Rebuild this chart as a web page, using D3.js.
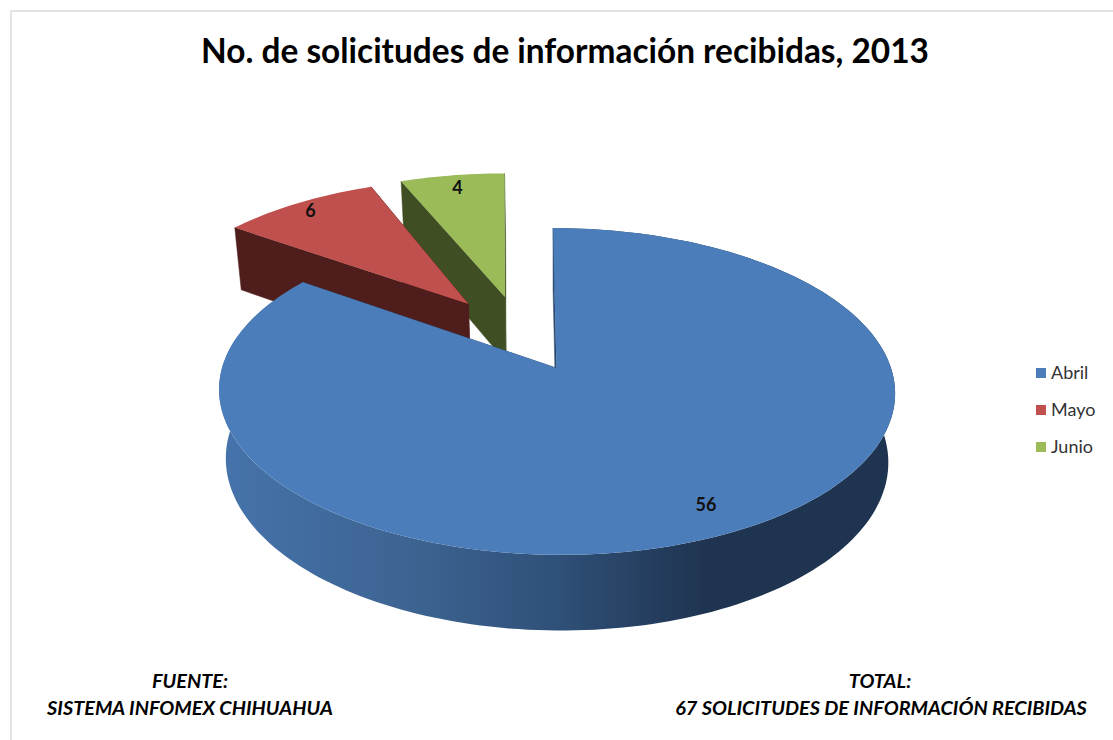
<!DOCTYPE html>
<html>
<head>
<meta charset="utf-8">
<title>No. de solicitudes</title>
<style>
html, body { margin: 0; padding: 0; background: #fff; }
svg { display: block; font-family: Lato, "Open Sans", sans-serif; }
</style>
</head>
<body>
<div id="chart"></div>
<script src="https://cdnjs.cloudflare.com/ajax/libs/d3/7.8.5/d3.min.js"></script>
<script>
var months = ["Abril", "Mayo", "Junio"];
var counts = [56, 6, 4];
var topColors = ["#4b7dba", "#c0504d", "#9bbb59"];
var wallColors = ["#2c4a70", "#4f1e1c", "#3f4f23"];

// how far each slice is pulled out, in pie units, and the label distance
var pullX = [0, -0.279, -0.1644];
var pullY = [0, 0.424, 0.474];
var skew = [-4, -4, -8];
var labelRadius = [0.85, 0.92, 0.89];

var width = 1113, height = 740;
var cx = 556.5, cy = 368;
var a = 334.5, b = 160, k = 0.1437;
var lowerScale = 0.98, depth = 68;

var svg = d3.select("#chart").append("svg")
    .attr("width", width)
    .attr("height", height);

// frame of the original picture
svg.append("path")
    .attr("d", d3.line()([[11, height], [11, 11], [width, 11]]))
    .attr("fill", "none")
    .attr("stroke", "#dcdcdc")
    .attr("stroke-width", 1.5);

var grad = svg.append("defs").append("linearGradient")
    .attr("id", "blueWall")
    .attr("gradientUnits", "userSpaceOnUse")
    .attr("x1", 220).attr("x2", 895).attr("y1", 0).attr("y2", 0);
grad.append("stop").attr("offset", 0).attr("stop-color", "#4573ab");
grad.append("stop").attr("offset", 0.28).attr("stop-color", "#3d6492");
grad.append("stop").attr("offset", 0.5).attr("stop-color", "#2f5078");
grad.append("stop").attr("offset", 0.72).attr("stop-color", "#1f3450");
grad.append("stop").attr("offset", 1).attr("stop-color", "#1f3450");

// tilted pie plane -> screen, with a bit of perspective
function project(X, Y, s0, y0) {
  var w = 1 + k * Y;
  return [cx + (a * X + s0 * (Y - y0)) / w, cy - b * Y / w];
}
function lower(p, X, Y) {
  var w = 1 + k * Y;
  return [cx + lowerScale * (p[0] - cx), cy + lowerScale * (p[1] - cy) + depth / w];
}

var arcs = d3.pie().sort(null)(counts);
var line = d3.line();

function rimPoints(d, i) {
  var n = Math.max(4, Math.round((d.endAngle - d.startAngle) * 40));
  return d3.range(n + 1).map(function(j) {
    var t = d.startAngle + (d.endAngle - d.startAngle) * j / n;
    return [pullX[i] + Math.sin(t), pullY[i] + Math.cos(t)];
  });
}

// painter's order: far slices first, big one last
d3.range(counts.length).reverse().forEach(function(i) {
  var rim = rimPoints(arcs[i], i);
  var top = rim.map(function(u) { return project(u[0], u[1], skew[i], pullY[i]); });
  var bottom = rim.map(function(u, j) { return lower(top[j], u[0], u[1]); });
  var apex = project(pullX[i], pullY[i], skew[i], pullY[i]);
  var apexLow = lower(apex, pullX[i], pullY[i]);
  var g = svg.append("g").attr("class", "slice");

  [top.length - 1, 0].forEach(function(j) {
    g.append("path")
        .attr("d", line([apex, top[j], bottom[j], apexLow]) + "Z")
        .attr("fill", wallColors[i])
        .attr("stroke", wallColors[i])
        .attr("stroke-width", 0.5);
  });

  if (i === 0) {
    g.append("path")
        .attr("d", line(top.concat(bottom.slice().reverse())) + "Z")
        .attr("fill", "url(#blueWall)");
  }

  g.append("path")
      .attr("d", line([apex].concat(top)) + "Z")
      .attr("fill", topColors[i]);
});

// value labels
arcs.forEach(function(d, i) {
  var mid = (d.startAngle + d.endAngle) / 2;
  var X = pullX[i] + labelRadius[i] * Math.sin(mid);
  var Y = pullY[i] + labelRadius[i] * Math.cos(mid);
  var p = project(X, Y, skew[i], pullY[i]);
  svg.append("text")
      .attr("x", p[0])
      .attr("y", p[1] + 7)
      .attr("text-anchor", "middle")
      .attr("font-size", 18)
      .attr("font-weight", 700)
      .attr("fill", "#111")
      .text(counts[i]);
});

// legend
var legendY = d3.scalePoint().domain(months).range([373, 447]);
var legend = svg.append("g").selectAll("g")
    .data(months)
  .enter().append("g")
    .attr("transform", function(d) { return "translate(1036," + legendY(d) + ")"; });
legend.append("rect")
    .attr("y", -5)
    .attr("width", 10)
    .attr("height", 10)
    .attr("fill", function(d, i) { return topColors[i]; });
legend.append("text")
    .attr("x", 15)
    .attr("y", 6)
    .attr("font-size", 18)
    .attr("fill", "#333")
    .text(function(d) { return d; });

svg.append("text")
    .attr("x", 565)
    .attr("y", 63)
    .attr("text-anchor", "middle")
    .attr("font-size", 33.4)
    .attr("font-weight", 700)
    .attr("fill", "#000")
    .text("No. de solicitudes de información recibidas, 2013");

var notes = [
  {x: 190, y: 688, t: "FUENTE:"},
  {x: 190, y: 715, t: "SISTEMA INFOMEX CHIHUAHUA"},
  {x: 880, y: 688, t: "TOTAL:"},
  {x: 881, y: 715, t: "67 SOLICITUDES DE INFORMACIÓN RECIBIDAS"}
];
svg.append("g").selectAll("text")
    .data(notes)
  .enter().append("text")
    .attr("x", function(d) { return d.x; })
    .attr("y", function(d) { return d.y; })
    .attr("text-anchor", "middle")
    .attr("font-size", 19.9)
    .attr("font-weight", 700)
    .attr("font-style", "italic")
    .attr("fill", "#000")
    .text(function(d) { return d.t; });
</script>
</body>
</html>
